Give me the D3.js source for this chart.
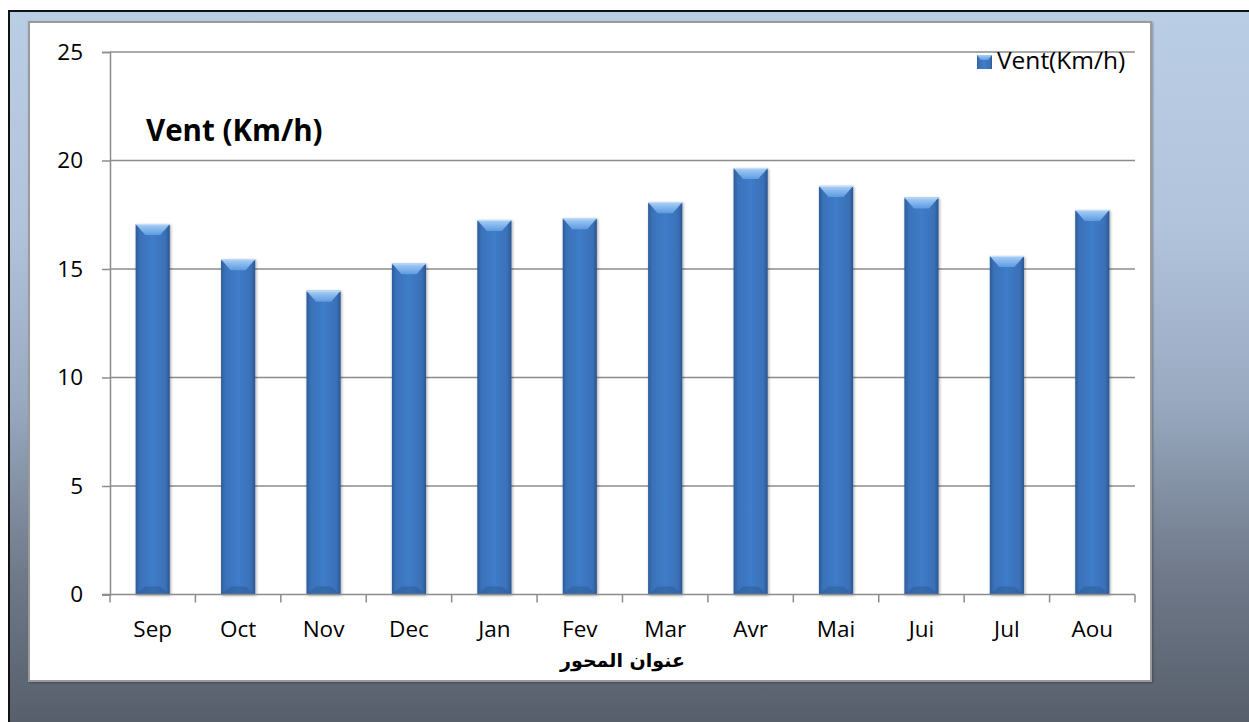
<!DOCTYPE html>
<html>
<head>
<meta charset="utf-8">
<script src="https://cdn.jsdelivr.net/npm/d3@7"></script>
<style>
  body { margin: 0; background: #fff; }
  svg { display: block; }
</style>
</head>
<body>
<svg id="chart" width="1249" height="722"></svg>
<script>
const months = ["Sep", "Oct", "Nov", "Dec", "Jan", "Fev", "Mar", "Avr", "Mai", "Jui", "Jul", "Aou"];
const vent = [17.07, 15.45, 14.0, 15.26, 17.26, 17.34, 18.08, 19.65, 18.83, 18.3, 15.6, 17.72];
const yTicks = [0, 5, 10, 15, 20, 25];
const chartTitle = "Vent (Km/h)";
const legendLabel = "Vent(Km/h)";
const axisTitle = "عنوان المحور";

const svg = d3.select("#chart");
const defs = svg.append("defs");
const font = "'Open Sans', 'Noto Sans', sans-serif";

// outer background gradient
const bg = defs.append("linearGradient").attr("id", "bg")
  .attr("x1", 0).attr("y1", 0).attr("x2", 0).attr("y2", 1);
bg.append("stop").attr("offset", "0%").attr("stop-color", "#b9cde5");
bg.append("stop").attr("offset", "30%").attr("stop-color", "#b2c4dc");
bg.append("stop").attr("offset", "55%").attr("stop-color", "#98a9c0");
bg.append("stop").attr("offset", "80%").attr("stop-color", "#6e7888");
bg.append("stop").attr("offset", "100%").attr("stop-color", "#575f6b");

// bar body gradient
const barGrad = defs.append("linearGradient").attr("id", "barGrad")
  .attr("x1", 0).attr("y1", 0).attr("x2", 1).attr("y2", 0);
barGrad.append("stop").attr("offset", "0%").attr("stop-color", "#2d5c99");
barGrad.append("stop").attr("offset", "12%").attr("stop-color", "#3a71b9");
barGrad.append("stop").attr("offset", "50%").attr("stop-color", "#3f7cc8");
barGrad.append("stop").attr("offset", "88%").attr("stop-color", "#3a70b7");
barGrad.append("stop").attr("offset", "100%").attr("stop-color", "#2a5690");

const bevel = defs.append("linearGradient").attr("id", "bevel")
  .attr("x1", 0).attr("y1", 0).attr("x2", 0).attr("y2", 1);
bevel.append("stop").attr("offset", "0%").attr("stop-color", "#a9d0f7");
bevel.append("stop").attr("offset", "100%").attr("stop-color", "#5d9be0");

const shadow = defs.append("filter").attr("id", "shadow")
  .attr("x", "-20%").attr("y", "-5%").attr("width", "140%").attr("height", "110%");
shadow.append("feDropShadow").attr("dx", 1).attr("dy", 1).attr("stdDeviation", 1.5)
  .attr("flood-color", "#000").attr("flood-opacity", 0.35);

const panelShadow = defs.append("filter").attr("id", "pshadow")
  .attr("x", "-5%").attr("y", "-5%").attr("width", "110%").attr("height", "110%");
panelShadow.append("feDropShadow").attr("dx", 1).attr("dy", 1).attr("stdDeviation", 1)
  .attr("flood-color", "#000").attr("flood-opacity", 0.3);

// outer frame
svg.append("rect").attr("x", 9).attr("y", 11).attr("width", 1240).attr("height", 711)
  .attr("fill", "url(#bg)");
svg.append("path").attr("d", "M9,722 V11 H1249")
  .attr("fill", "none").attr("stroke", "#111").attr("stroke-width", 2);

// white panel
svg.append("rect").attr("x", 29).attr("y", 22).attr("width", 1122).attr("height", 659)
  .attr("fill", "#fff").attr("stroke", "#9a9a9a").attr("stroke-width", 2)
  .attr("filter", "url(#pshadow)");

const plotLeft = 110, plotRight = 1135, plotTop = 52, plotBottom = 594.5;

const x = d3.scaleBand().domain(months).range([plotLeft, plotRight]).padding(0);
const y = d3.scaleLinear().domain([0, 25]).range([plotBottom, plotTop]);

// gridlines + y axis
const yAxis = d3.axisLeft(y).tickValues(yTicks).tickSize(8).tickPadding(18);
const gy = svg.append("g").attr("transform", `translate(${plotLeft},0)`).call(yAxis);
gy.select(".domain").attr("stroke", "#8c8c8c").attr("stroke-width", 1.5);
gy.selectAll(".tick line").attr("stroke", "#8c8c8c").attr("stroke-width", 1.5);
gy.selectAll(".tick text")
  .attr("font-family", font)
  .attr("font-size", 22.5).attr("fill", "#000").attr("x", -27);

svg.append("g").selectAll("line").data(yTicks.filter(d => d > 0)).join("line")
  .attr("x1", plotLeft).attr("x2", plotRight)
  .attr("y1", d => y(d)).attr("y2", d => y(d))
  .attr("stroke", "#8c8c8c").attr("stroke-width", 1.5);

// bars
const bw = x.bandwidth() * 0.4;
const bars = svg.append("g").selectAll("g").data(months).join("g")
  .attr("transform", d => `translate(${x(d) + (x.bandwidth() - bw) / 2},0)`);

bars.append("rect")
  .attr("x", 0).attr("width", bw)
  .attr("y", (d, i) => y(vent[i]))
  .attr("height", (d, i) => plotBottom - y(vent[i]))
  .attr("fill", "url(#barGrad)")
  .attr("filter", "url(#shadow)");

// top bevel
bars.append("path")
  .attr("d", (d, i) => {
    const t = y(vent[i]);
    const h = 11;
    return `M0,${t} H${bw} L${bw * 0.72},${t + h} H${bw * 0.28} Z`;
  })
  .attr("fill", "url(#bevel)");
bars.append("line")
  .attr("x1", 0).attr("x2", bw)
  .attr("y1", (d, i) => y(vent[i]) + 0.5).attr("y2", (d, i) => y(vent[i]) + 0.5)
  .attr("stroke", "#c6e0fb").attr("stroke-width", 1);

// bottom subtle bevel
bars.append("path")
  .attr("d", () => `M0,${plotBottom} H${bw} L${bw * 0.72},${plotBottom - 8} H${bw * 0.28} Z`)
  .attr("fill", "#2c5a95").attr("opacity", 0.5);

// x axis
const xAxis = d3.axisBottom(x).tickSize(0).tickPadding(27);
const gx = svg.append("g").attr("transform", `translate(0,${plotBottom})`).call(xAxis);
gx.select(".domain").attr("stroke", "#8c8c8c").attr("stroke-width", 1.5)
  .attr("d", `M${plotLeft - 8},0 H${plotRight}`);
gx.selectAll(".tick text")
  .attr("font-family", font)
  .attr("font-size", 22.5).attr("fill", "#000");
// category boundary ticks
const bounds = months.map(m => x(m)).concat([plotRight]);
gx.append("g").selectAll("line").data(bounds).join("line")
  .attr("x1", d => d).attr("x2", d => d).attr("y1", 0).attr("y2", 8)
  .attr("stroke", "#8c8c8c").attr("stroke-width", 1.5);

// chart title
svg.append("text").attr("x", 146).attr("y", 141)
  .attr("font-family", font)
  .attr("font-weight", "bold").attr("font-size", 29.5).attr("fill", "#000")
  .text(chartTitle);

// legend
const lg = svg.append("g").attr("transform", "translate(977,55)");
lg.append("rect").attr("width", 15).attr("height", 14).attr("fill", "url(#barGrad)");
lg.append("path").attr("d", "M0,0 H15 L11,5 H4 Z").attr("fill", "url(#bevel)");
lg.append("text").attr("x", 20).attr("y", 14)
  .attr("font-family", font)
  .attr("font-size", 24.5).attr("fill", "#000").text(legendLabel);

// axis title
svg.append("text").attr("x", (plotLeft + plotRight) / 2).attr("y", 667)
  .attr("text-anchor", "middle").attr("direction", "rtl")
  .attr("font-family", "'DejaVu Sans', sans-serif")
  .attr("font-weight", "bold").attr("font-size", 19).attr("fill", "#000")
  .text(axisTitle);
</script>
</body>
</html>
